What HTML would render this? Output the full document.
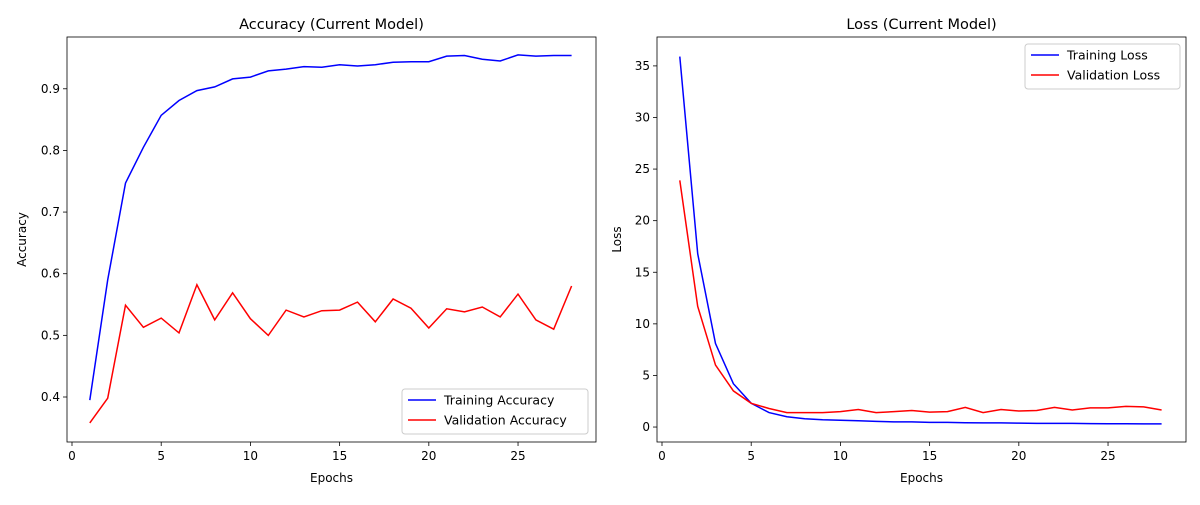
<!DOCTYPE html>
<html><head><meta charset="utf-8">
<style>
body{margin:0;background:#fff;font-family:"Liberation Sans","DejaVu Sans",sans-serif;}
svg text{font-family:"DejaVu Sans","Liberation Sans",sans-serif;fill:#000;}
</style></head>
<body>
<svg id="chart" width="1200" height="500" xmlns="http://www.w3.org/2000/svg"></svg>
<script>
const epochs = [1,2,3,4,5,6,7,8,9,10,11,12,13,14,15,16,17,18,19,20,21,22,23,24,25,26,27,28];
const trainAcc = [0.395,0.59,0.747,0.805,0.857,0.881,0.897,0.903,0.916,0.919,0.929,0.932,0.936,0.935,0.939,0.937,0.939,0.943,0.944,0.944,0.953,0.954,0.948,0.945,0.955,0.953,0.954,0.954];
const valAcc = [0.358,0.398,0.549,0.513,0.528,0.504,0.582,0.525,0.569,0.527,0.5,0.541,0.53,0.54,0.541,0.554,0.522,0.559,0.544,0.512,0.543,0.538,0.546,0.53,0.567,0.525,0.51,0.58];
const trainLoss = [35.9,16.8,8.1,4.2,2.3,1.4,1.0,0.8,0.7,0.65,0.6,0.55,0.5,0.5,0.45,0.45,0.42,0.4,0.4,0.38,0.35,0.35,0.35,0.33,0.32,0.32,0.3,0.3];
const valLoss = [23.9,11.7,6.0,3.5,2.3,1.8,1.4,1.4,1.4,1.5,1.7,1.4,1.5,1.6,1.45,1.5,1.9,1.4,1.7,1.55,1.6,1.9,1.65,1.85,1.85,2.0,1.95,1.65];
const xTicks = [0,5,10,15,20,25];
const accTicks = [0.4,0.5,0.6,0.7,0.8,0.9];
const lossTicks = [0,5,10,15,20,25,30,35];

const NS="http://www.w3.org/2000/svg";
const svg=document.getElementById('chart');
function mk(tag,attrs,parent){const e=document.createElementNS(NS,tag);for(const k in attrs)e.setAttribute(k,attrs[k]);(parent||svg).appendChild(e);return e;}

function panel(cfg){
  const g=mk('g',{});
  
  
  const {L,R,T,B,x0,x1,y0,y1}=cfg;
  const sx=v=>L+(v-x0)/(x1-x0)*(R-L);
  const sy=v=>B-(v-y0)/(y1-y0)*(B-T);
  xTicks.forEach(t=>{
    const x=sx(t);
    mk('line',{x1:x,x2:x,y1:B,y2:B+4,stroke:'#000','stroke-width':0.8},g);
    const tx=mk('text',{x:x,y:B+18,'text-anchor':'middle','font-size':12},g);tx.textContent=t;
    
    
  });
  cfg.yTicks.forEach(t=>{
    const y=sy(t);
    mk('line',{x1:L-4,x2:L,y1:y,y2:y,stroke:'#000','stroke-width':0.8},g);
    const tx=mk('text',{x:L-7,y:y+4,'text-anchor':'end','font-size':12},g);tx.textContent=cfg.fmt(t);
    
    
  });
  cfg.series.forEach(s=>{
    const d=epochs.map((e,i)=>(i?'L':'M')+sx(e).toFixed(1)+','+sy(s.data[i]).toFixed(1)).join('');
    const p=mk('path',{d:d,fill:'none',stroke:s.color,'stroke-width':1.5},g);
    
    
  });
  mk('rect',{x:L,y:T,width:R-L,height:B-T,fill:'none',stroke:'#000','stroke-width':0.8},g);
  const ti=mk('text',{x:(L+R)/2,y:T-8,'text-anchor':'middle','font-size':14.5},g);ti.textContent=cfg.title;
  
  
  const xl=mk('text',{x:(L+R)/2,y:B+40,'text-anchor':'middle','font-size':12},g);xl.textContent='Epochs';
  
  
  const yl=mk('text',{x:cfg.ylx,y:(T+B)/2,'text-anchor':'middle','font-size':12,transform:`rotate(-90 ${cfg.ylx} ${(T+B)/2})`},g);yl.textContent=cfg.ylabel;
  
  
  // legend
  const lg=mk('g',{},g);
  
  
  mk('rect',{x:cfg.lx,y:cfg.ly,width:cfg.lw,height:45,rx:3,fill:'#fff',stroke:'#ccc','stroke-width':1},lg);
  cfg.series.forEach((s,i)=>{
    const yy=cfg.ly+11+i*20;
    mk('line',{x1:cfg.lx+6,x2:cfg.lx+34,y1:yy,y2:yy,stroke:s.color,'stroke-width':1.5},lg);
    const t=mk('text',{x:cfg.lx+42,y:yy+4.5,'font-size':12.5},lg);t.textContent=s.label;
    
    
  });
}
panel({name:'accuracy-panel',title:'Accuracy (Current Model)',ylabel:'Accuracy',ylx:26,
  L:67,R:596,T:37,B:442,x0:-0.28,x1:29.37,y0:0.327,y1:0.984,yTicks:accTicks,fmt:t=>t.toFixed(1),
  lx:402,ly:389,lw:186,
  series:[{id:'training-accuracy-line',label:'Training Accuracy',color:'#0000ff',data:trainAcc},
          {id:'validation-accuracy-line',label:'Validation Accuracy',color:'#ff0000',data:valAcc}]});
panel({name:'loss-panel',title:'Loss (Current Model)',ylabel:'Loss',ylx:621,
  L:657,R:1186,T:37,B:442,x0:-0.28,x1:29.37,y0:-1.45,y1:37.8,yTicks:lossTicks,fmt:t=>String(t),
  lx:1025,ly:44,lw:155,
  series:[{id:'training-loss-line',label:'Training Loss',color:'#0000ff',data:trainLoss},
          {id:'validation-loss-line',label:'Validation Loss',color:'#ff0000',data:valLoss}]});
</script>
</body></html>
